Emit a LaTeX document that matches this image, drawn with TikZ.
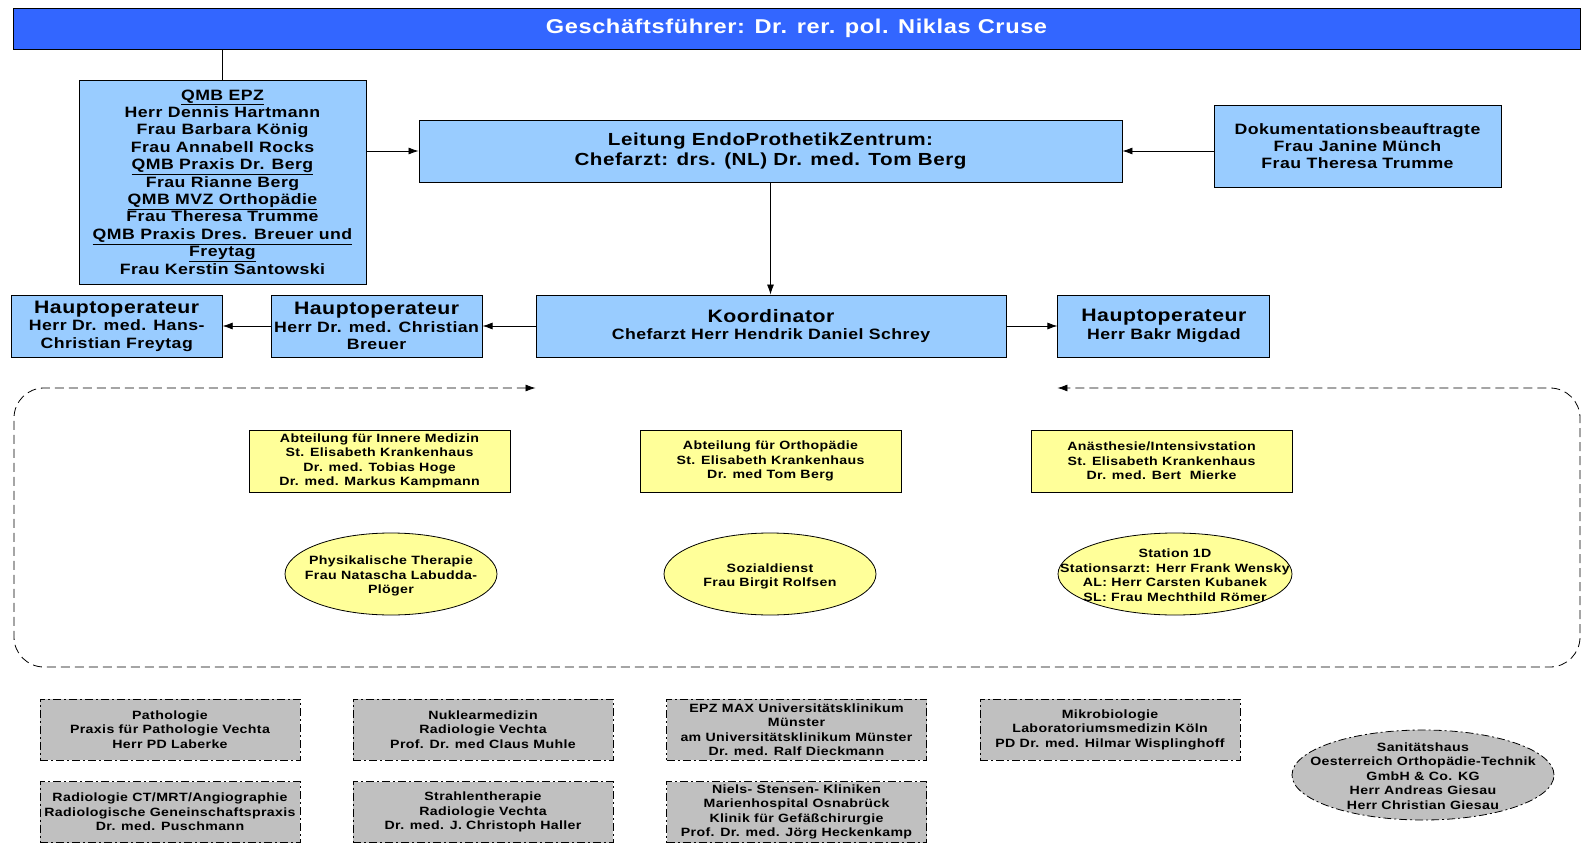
\documentclass[tikz,border=0pt]{standalone}
\usepackage{fontspec}
\setmainfont{Liberation Sans}[FakeStretch=1.18, LetterSpace=3]
\usetikzlibrary{shapes,arrows.meta,positioning,calc}

\definecolor{barblue}{HTML}{3366FF}
\definecolor{boxblue}{HTML}{99CCFF}
\definecolor{boxyellow}{HTML}{FFFF99}
\definecolor{boxgray}{HTML}{C0C0C0}

\tikzset{
    topbar/.style={rectangle, draw, fill=barblue, text=white, line width=0.9pt, inner sep=0pt,
        font=\bfseries\fontsize{20}{23}\selectfont},
    bluebox/.style={rectangle, draw, fill=boxblue, line width=0.9pt, align=center, inner sep=0pt,
        font=\bfseries\fontsize{15}{17.4}\selectfont},
    yellowbox/.style={rectangle, draw, fill=boxyellow, line width=0.8pt, align=center, inner sep=0pt,
        minimum width=261pt, minimum height=62pt, font=\bfseries\fontsize{12}{14.5}\selectfont},
    yellowoval/.style={ellipse, draw, fill=boxyellow, line width=0.8pt, inner sep=0pt,
        text height=0pt, text depth=0pt, minimum height=82pt, font=\bfseries\fontsize{12}{14.5}\selectfont},
    graybox/.style={rectangle, draw, fill=boxgray, line width=0.8pt, align=center, inner sep=0pt,
        dash pattern=on 8pt off 3pt on 2pt off 3pt,
        minimum width=260pt, minimum height=61pt, font=\bfseries\fontsize{12}{14.5}\selectfont},
    grayoval/.style={ellipse, draw, fill=boxgray, line width=0.8pt, inner sep=0pt,
        text height=0pt, text depth=0pt,
        dash pattern=on 8pt off 3pt on 2pt off 3pt, font=\bfseries\fontsize{12}{14.5}\selectfont}
}
% text of a fixed-size oval, may run over its border
\newcommand{\ovaltext}[1]{\makebox[0pt]{\raisebox{-5.5pt}{\begin{tabular}{@{}c@{}}#1\end{tabular}}}}

\begin{document}
\begin{tikzpicture}[x=1pt, y=-1pt, >={Latex[length=10pt,width=7pt]}, line width=0.8pt]
    \useasboundingbox (0,0) rectangle (1585,851);

    % Leitung
    \node[topbar, minimum width=1567pt, minimum height=41pt] (gf) at (796.5,28.5) {Geschäftsführer: Dr. rer. pol. Niklas Cruse};
    \node[bluebox, minimum width=287pt, minimum height=204pt] (qmb) at (222.5,182) {\underline{QMB EPZ}\\Herr Dennis Hartmann\\Frau Barbara König\\Frau Annabell Rocks\\\underline{QMB Praxis Dr. Berg}\\Frau Rianne Berg\\\underline{QMB MVZ Orthopädie}\\Frau Theresa Trumme\\\underline{QMB Praxis Dres. Breuer und}\\\underline{Freytag}\\Frau Kerstin Santowski};
    \node[bluebox, minimum width=703pt, minimum height=62pt, font=\bfseries\fontsize{17.5}{20}\selectfont] (leitung) at (770.5,151) {Leitung EndoProthetikZentrum:\\Chefarzt: drs. (NL) Dr. med. Tom Berg};
    \node[bluebox, minimum width=287pt, minimum height=82pt, font=\bfseries\fontsize{15}{17}\selectfont] (doku) at (1357.5,146) {Dokumentationsbeauftragte\\Frau Janine Münch\\Frau Theresa Trumme};

    % Koordination und Hauptoperateure
    \node[bluebox, minimum width=470pt, minimum height=62pt] (koord) at (771,326) {{\fontsize{18}{20}\selectfont Koordinator}\\Chefarzt Herr Hendrik Daniel Schrey};
    \node[bluebox, minimum width=211pt, minimum height=62pt, left=53pt of koord] (breuer) {{\fontsize{18}{20}\selectfont Hauptoperateur}\\Herr Dr. med. Christian\\Breuer};
    \node[bluebox, minimum width=211pt, minimum height=62pt, left=48pt of breuer] (freytag) {{\fontsize{18}{20}\selectfont Hauptoperateur}\\Herr Dr. med. Hans-\\Christian Freytag};
    \node[bluebox, minimum width=212pt, minimum height=62pt, right=51pt of koord] (migdad) {{\fontsize{18}{20}\selectfont Hauptoperateur}\\Herr Bakr Migdad};

    % Verbindungen
    \draw (gf.south -| qmb.north) -- (qmb.north);
    \draw[->] (qmb.east |- leitung.west) -- (leitung.west);
    \draw[->] (doku.west |- leitung.east) -- (leitung.east);
    \draw[->] (leitung.south) -- (leitung.south |- koord.north);
    \draw[->] (koord.west) -- (breuer.east);
    \draw[->] (breuer.west) -- (freytag.east);
    \draw[->] (koord.east) -- (migdad.west);

    % Kooperationsbereich
    \path (koord.west) ++(0,62) coordinate (cl);
    \path (migdad.west) ++(0,62) coordinate (cr);
    \draw[<->, dash pattern=on 9pt off 5pt, rounded corners=30pt] (cl) -- (14,388) -- (14,667) -- (1580,667) -- (1580,388) -- (cr);

    \node[yellowbox] (innere) at (379.5,461) {Abteilung für Innere Medizin\\St. Elisabeth Krankenhaus\\Dr. med. Tobias Hoge\\Dr. med. Markus Kampmann};
    \node[yellowbox] (ortho) at (770.5,461) {Abteilung für Orthopädie\\St. Elisabeth Krankenhaus\\Dr. med Tom Berg};
    \node[yellowbox] (anae) at (1161.5,461) {Anästhesie/Intensivstation\\St. Elisabeth Krankenhaus\\Dr. med. Bert\ \ Mierke};
    \node[yellowoval, minimum width=212pt] (physio) at (391,574) {\ovaltext{Physikalische Therapie\\Frau Natascha Labudda-\\Plöger}};
    \node[yellowoval, minimum width=212pt] (sozial) at (770,574) {\ovaltext{Sozialdienst\\Frau Birgit Rolfsen}};
    \node[yellowoval, minimum width=234pt] (station) at (1175,574) {\ovaltext{Station 1D\\Stationsarzt: Herr Frank Wensky\\AL: Herr Carsten Kubanek\\SL: Frau Mechthild Römer}};

    % Externe Partner
    \node[graybox] (patho) at (170,729.5) {Pathologie\\Praxis für Pathologie Vechta\\Herr PD Laberke};
    \node[graybox] (nukl) at (483,729.5) {Nuklearmedizin\\Radiologie Vechta\\Prof. Dr. med Claus Muhle};
    \node[graybox] (epzmax) at (796.5,729.5) {EPZ MAX Universitätsklinikum\\Münster\\am Universitätsklinikum Münster\\Dr. med. Ralf Dieckmann};
    \node[graybox] (mikro) at (1110,729.5) {Mikrobiologie\\Laboratoriumsmedizin Köln\\PD Dr. med. Hilmar Wisplinghoff};
    \node[graybox] (radio) at (170,812) {Radiologie CT/MRT/Angiographie\\Radiologische Geneinschaftspraxis\\Dr. med. Puschmann};
    \node[graybox] (strahl) at (483,812) {Strahlentherapie\\Radiologie Vechta\\Dr. med. J. Christoph Haller};
    \node[graybox] (niels) at (796.5,812) {Niels- Stensen- Kliniken\\Marienhospital Osnabrück\\Klinik für Gefäßchirurgie\\Prof. Dr. med. Jörg Heckenkamp};
    \node[grayoval, minimum width=262pt, minimum height=90pt] (sanitaet) at (1423,775) {\ovaltext{Sanitätshaus\\Oesterreich Orthopädie-Technik\\GmbH \& Co. KG\\Herr Andreas Giesau\\Herr Christian Giesau}};
\end{tikzpicture}
\end{document}
